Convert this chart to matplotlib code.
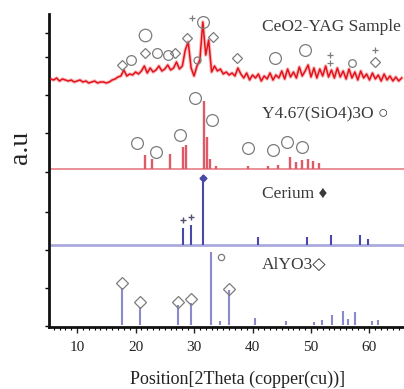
import matplotlib
matplotlib.use("Agg")
import matplotlib.pyplot as plt
import numpy as np

# ---------------- data ----------------
# CeO2-YAG sample: measured pattern, 0.5 deg steps starting at 5.5 deg
sample_start = 5.5
sample_step = 0.5
sample_values = [1, 0, 2, -1, 1, 0, -1, 0, -2, -1, 0, -2, -1, -3, -2, -1, -3, -2, -2, -3,   # 5.5-15
                 -2, 0, 1, 3, 4, 10, 4, 6, 5, 8, 6, 9, 14, 7, 12, 8, 10, 14, 9, 11,        # 15.5-25
                 15, 10, 12, 18, 11, 14, 30, 38, 12, 4, 14, 20, 58, 25, 40, 8, 14, 9, 11, 6,  # 25.5-35
                 8, 5, 7, 4, 12, 6, 2, 7, 0, 5, 2, 6, -1, 4, 1, 7, 0, 5, 2, 9,             # 35.5-45
                 1, 11, 3, 8, 2, 13, 4, 9, 15, 3, 12, 2, 11, 4, 14, 3, 10, 2, 12, 3,       # 45.5-55
                 9, 1, 11, 2, 8, 0, 9, 2, 6, 0, 7, 1, 5, -1, 6, 0, 4, -1, 3, -1, 2]        # 55.5-65.5

# Y4.67(SiO4)3O reference pattern
y467_pos = [21.6, 22.8, 25.9, 28.1, 28.6, 31.7, 32.3, 32.8, 33.8, 39.2, 42.6, 44.3,
            46.4, 47.4, 48.4, 49.5, 50.4, 51.3]
y467_int = [14, 10, 15, 22, 24, 68, 32, 10, 3, 3, 3, 4, 12, 7, 9, 10, 8, 6]

# Cerium reference pattern
ce_pos = [28.1, 29.4, 31.5, 40.9, 49.3, 53.4, 58.4, 59.7]
ce_int = [17, 20, 70, 8, 8, 10, 10, 6]

# AlYO3 reference pattern
aly_pos = [17.7, 20.8, 27.3, 29.5, 32.9, 34.4, 36.0, 40.4, 45.7, 50.5, 51.8, 53.6,
           55.5, 56.3, 57.6, 60.5, 61.5]
aly_int = [37, 18, 20, 22, 73, 4, 35, 7, 4, 3, 5, 10, 14, 6, 13, 4, 5]

# phase markers (position, height in pattern units)
smp_circle_x = [19.2, 21.6, 23.6, 25.5, 30.5, 31.6, 43.8, 49.0, 57.0]
smp_circle_y = [20, 45, 27, 25, 20, 58, 22, 30, 17]
smp_circle_s = [7, 9, 7, 7, 5, 8.5, 8.5, 8.5, 5.5]
smp_diam_x = [17.6, 21.6, 26.8, 28.8, 33.2, 37.4, 60.9]
smp_diam_y = [15, 27, 27, 42, 43, 22, 18]
smp_plus_x = [29.7, 53.2, 53.2, 60.9]
smp_plus_y = [62, 25, 17, 30]

y467_circle_x = [20.3, 23.5, 27.6, 30.2, 33.1, 39.2, 43.5, 45.9, 48.5]
y467_circle_y = [26, 17, 34, 71, 49, 21, 19, 27, 22]

ce_plus_x = [28.1, 29.5]
ce_plus_y = [25, 28]
ce_diam_x = [31.5]
ce_diam_y = [67]

aly_diam_x = [17.7, 20.8, 27.3, 29.5, 36.0]
aly_diam_y = [42, 23, 23, 26, 36]
aly_circle_x = [34.6]
aly_circle_y = [68]

labels = ["CeO2-YAG Sample", "Y4.67(SiO4)3O \u25cb", "Cerium \u2666", "AlYO3\u25c7"]

# ---------------- figure ----------------
serif = ["Liberation Serif", "DejaVu Serif", "DejaVu Sans"]
plt.rcParams["font.family"] = serif

fig = plt.figure(figsize=(4.04, 3.89), dpi=100)
ax = fig.add_axes([49 / 404, (389 - 327) / 389, (404 - 49) / 404, (327 - 14) / 389])
ax.set_xlim(5.2, 65.9)
ax.set_ylim(0, 313)

base_smp, base_y467, base_ce, base_aly = 247, 158, 82, 2

red = "#e3121c"
pink = "#dd5a66"
blue = "#4848a8"
lav = "#8a8acc"
mk = "#7c7c7c"

# sample pattern
sx = sample_start + sample_step * np.arange(len(sample_values))
sy = base_smp + np.array(sample_values)
ax.plot(sx, sy, color="#f07070", lw=2.6, alpha=0.45, zorder=2)
ax.plot(sx, sy, color=red, lw=1.1, zorder=3)

# Y4.67 pattern
ax.axhline(base_y467, color="#e88890", lw=1.3, zorder=2)
ax.vlines(y467_pos, base_y467, base_y467 + np.array(y467_int), color=pink, lw=1.7, zorder=3)

# Cerium pattern
ax.axhline(base_ce, color="#aaaade", lw=2.0, zorder=2)
ax.vlines(ce_pos, base_ce, base_ce + np.array(ce_int), color=blue, lw=1.5, zorder=3)

# AlYO3 pattern
ax.vlines(aly_pos, base_aly, base_aly + np.array(aly_int), color=lav, lw=1.5, zorder=3)

# markers
mkw = dict(color=mk, mfc="none", mew=0.9, ls="none", zorder=4)
for x, y, s in zip(smp_circle_x, smp_circle_y, smp_circle_s):
    ax.plot([x], [base_smp + y], marker="o", ms=s, **mkw)
ax.plot(smp_diam_x, base_smp + np.array(smp_diam_y), marker="D", ms=5, **mkw)
ax.plot(smp_plus_x, base_smp + np.array(smp_plus_y), marker="+", ms=4, **mkw)

ax.plot(y467_circle_x, base_y467 + np.array(y467_circle_y), marker="o", ms=8.5, **mkw)

ax.plot(ce_plus_x, base_ce + np.array(ce_plus_y), marker="+", ms=4, color="#505070",
        ls="none", mew=1.0, zorder=4)
ax.plot(ce_diam_x, base_ce + np.array(ce_diam_y), marker="D", ms=3.5, color=blue,
        ls="none", zorder=4)

ax.plot(aly_diam_x, base_aly + np.array(aly_diam_y), marker="D", ms=6, **mkw)
ax.plot(aly_circle_x, base_aly + np.array(aly_circle_y), marker="o", ms=4.5, **mkw)

# pattern labels
label_y = [300, 213, 133, 62]
for t, y in zip(labels, label_y):
    ax.text(41.6, y, t, fontsize=12.5, color="#3a3a3a", ha="left", va="center",
            family=serif, zorder=5)

# axes styling
for s in ["top", "right"]:
    ax.spines[s].set_visible(False)
for s in ["left", "bottom"]:
    ax.spines[s].set_linewidth(2.0)
    ax.spines[s].set_color("#111111")

ax.set_xticks([10, 20, 30, 40, 50, 60])
ax.set_xticks(np.arange(6, 66, 1), minor=True)
ax.tick_params(axis="x", which="major", direction="out", length=4, width=1.0,
               labelsize=11, colors="#222222", pad=6)
ax.tick_params(axis="x", which="minor", direction="out", length=2, width=0.8)
ax.set_yticks([1, 39, 77, 115, 155, 194, 232, 270, 294])
ax.set_yticklabels([])
ax.tick_params(axis="y", direction="out", length=3, width=1.0)

ax.set_xlabel("Position[2Theta (copper(cu))]", fontsize=13, color="#222222")
ax.xaxis.set_label_coords(0.531, -0.14)
ax.set_ylabel("a.u", fontsize=20, color="#222222")
ax.yaxis.set_label_coords(-0.045, 0.575)

fig.savefig("out.png", dpi=100)
